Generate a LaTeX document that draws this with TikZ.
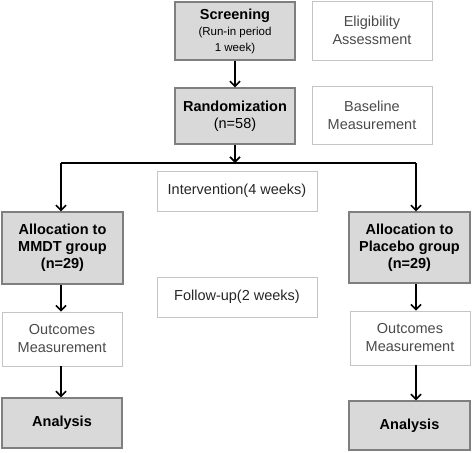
\documentclass[tikz,border=0pt]{standalone}
\usepackage{fontspec}
\setmainfont{Liberation Sans}
\usetikzlibrary{arrows.meta}
\definecolor{boxgray}{HTML}{D9D9D9}
\definecolor{edgegray}{HTML}{7F7F7F}
\definecolor{lightedge}{HTML}{C4C4C4}
\definecolor{softtext}{HTML}{4A4A4A}
\newcommand{\smalltxt}{\fontsize{11.5}{13}\selectfont\mdseries}
\tikzset{
  graybox/.style={draw=edgegray, fill=boxgray, line width=1.4pt, align=center,
    inner sep=0pt, font=\fontsize{14.5}{17}\selectfont\bfseries},
  whitebox/.style={draw=lightedge, line width=0.8pt, align=center, inner sep=0pt,
    text=softtext, font=\fontsize{14.5}{18}\selectfont},
  flow/.style={line width=1.6pt, -{Straight Barb[length=5pt,width=10pt,line width=1.6pt]}}
}
\begin{document}
\begin{tikzpicture}[x=1pt, y=-1pt]
      \useasboundingbox (0,0) rectangle (472,453);
      % top column
      \node[graybox, minimum width=120pt, minimum height=58pt] (screen) at (235,31)
        {Screening\\[-1pt]\smalltxt (Run-in period\\[-1pt]\smalltxt 1 week)};
      \node[whitebox, minimum width=120pt, minimum height=59pt] (elig) at (372,30.5)
        {Eligibility\\Assessment};
      \node[graybox, minimum width=120pt, minimum height=56pt] (rand) at (235,116)
        {Randomization\\\mdseries (n=58)};
      \node[whitebox, minimum width=120pt, minimum height=58pt] (base) at (372,115)
        {Baseline\\Measurement};
      % periods
      \node[whitebox, text=black!85, minimum width=160pt, minimum height=40pt] (inter) at (237,191)
        {Intervention(4 weeks)};
      \node[whitebox, text=black!85, minimum width=160pt, minimum height=40pt] (follow) at (237,297)
        {Follow-up(2 weeks)};
      % left arm
      \node[graybox, minimum width=121pt, minimum height=72pt] (lalloc) at (62.5,248)
        {Allocation to\\MMDT group\\(n=29)};
      \node[whitebox, minimum width=120pt, minimum height=54pt] (lout) at (62,339)
        {Outcomes\\Measurement};
      \node[graybox, minimum width=120pt, minimum height=50pt] (lana) at (62,423)
        {Analysis};
      % right arm
      \node[graybox, minimum width=121pt, minimum height=71pt] (ralloc) at (409.5,247.5)
        {Allocation to\\Placebo group\\(n=29)};
      \node[whitebox, minimum width=120pt, minimum height=54pt] (rout) at (410,338)
        {Outcomes\\Measurement};
      \node[graybox, minimum width=121pt, minimum height=49pt] (rana) at (409.5,425.5)
        {Analysis};
      % split
      \coordinate (split) at (235,163);
      \coordinate (lcorner) at (61,163);
      \coordinate (rcorner) at (416,163);
      \draw[flow] (screen) -- (rand);
      \draw[flow] (rand) -- (split);
      \draw[line width=1.6pt] (lcorner) -- (rcorner);
      \draw[flow] (lcorner) -- (lcorner |- lalloc.north);
      \draw[flow] (rcorner) -- (rcorner |- ralloc.north);
      \draw[flow] (lalloc.south -| lcorner) -- (lout.north -| lcorner);
      \draw[flow] (lout.south -| lcorner) -- (lana.north -| lcorner);
      \draw[flow] (ralloc.south -| rcorner) -- (rout.north -| rcorner);
      \draw[flow] (rout.south -| rcorner) -- (rana.north -| rcorner);
    \end{tikzpicture}
\end{document}
